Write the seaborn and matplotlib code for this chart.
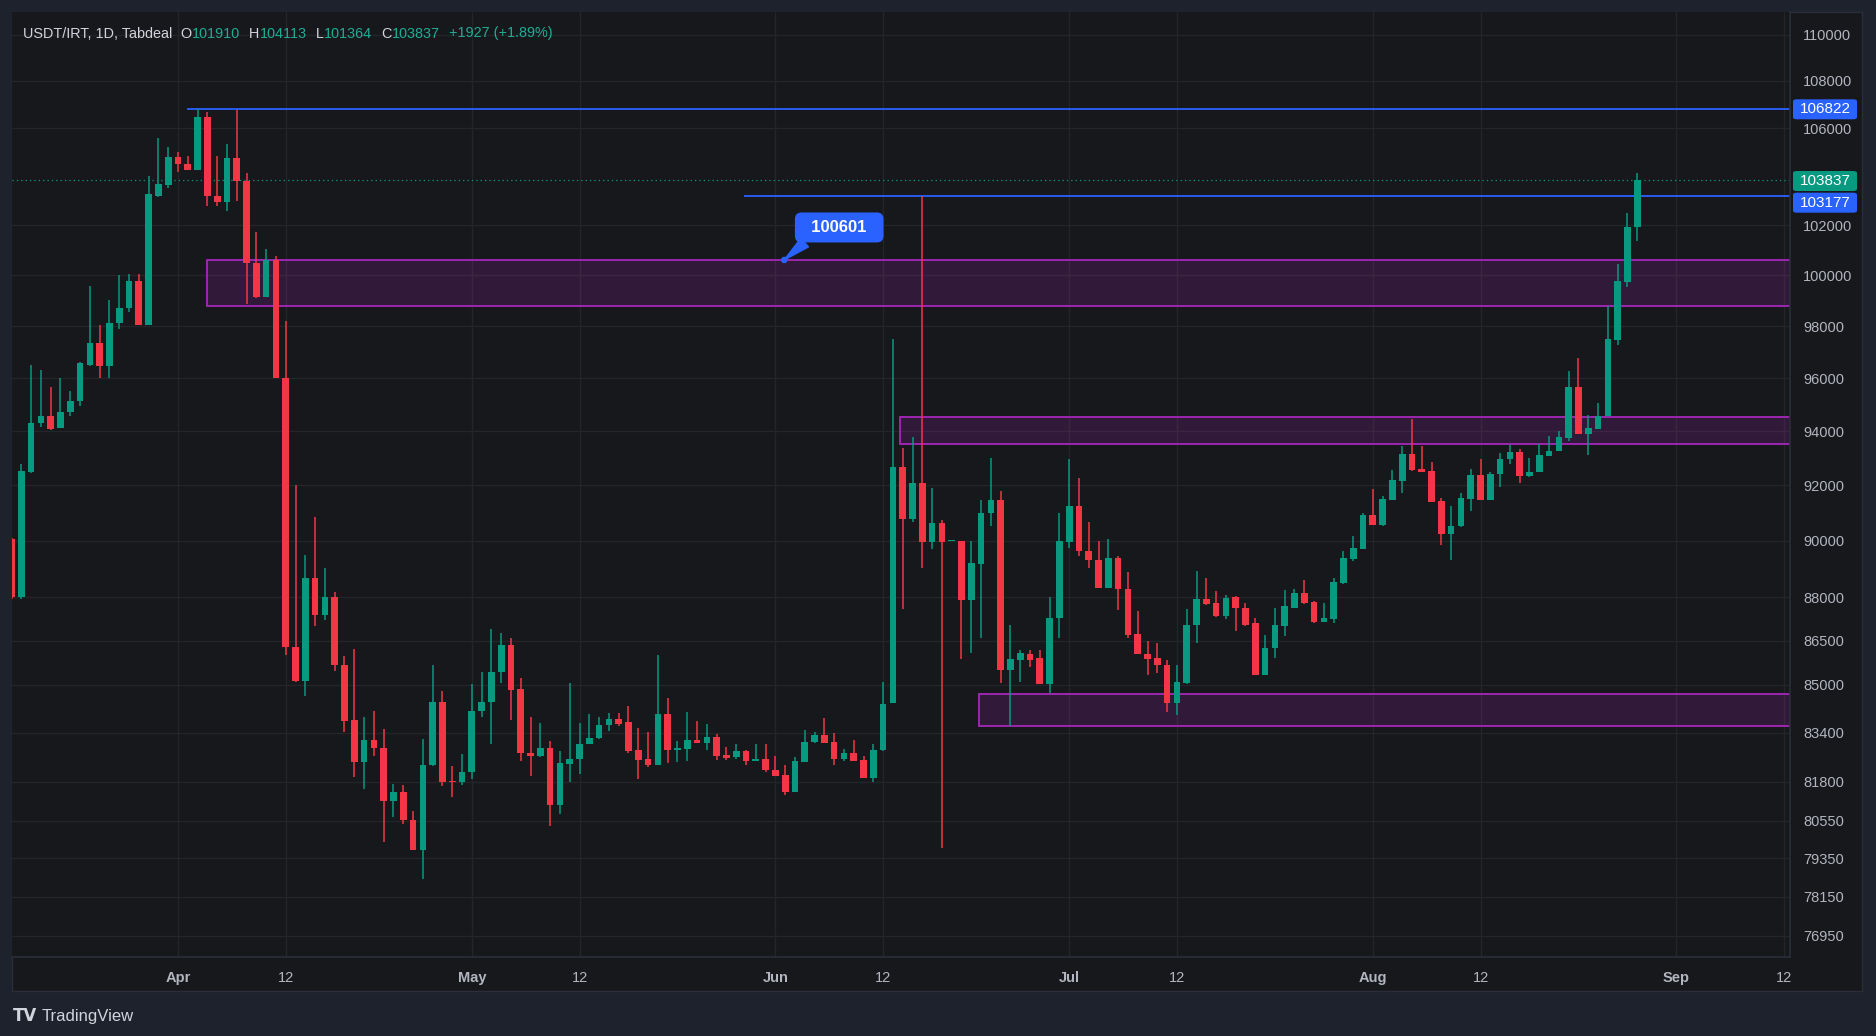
import numpy as np
import pandas as pd
import matplotlib
matplotlib.use("Agg")
import matplotlib.pyplot as plt
import seaborn as sns
from matplotlib.patches import Rectangle, FancyBboxPatch
from matplotlib.ticker import NullLocator

# ---------------- data ----------------
dates = pd.date_range("2025-03-15", "2025-08-28", freq="D")

open_ = [
    90070, 88000, 92500, 94290, 94550, 94100, 94725, 95130, 96495, 97350, 96450, 98100, 98720, 99750, 98030, 103205, 103630,
    104810, 104520, 104250, 106480, 103205, 102920, 104760, 103790, 100470, 99150, 100601, 96000, 86300, 85130, 88670, 87400, 88000, 85670, 83820, 82450, 83180, 82910, 81190, 81460, 80580, 79620, 82340, 84430, 81800, 81800,
    82100, 84120, 84430, 85420, 86350, 84850, 82750, 82640, 82910, 81050, 82380, 82540, 83040, 83240, 83650, 83850, 83760, 82830, 82550, 82350, 84020, 82820, 82880, 83150, 83050, 83270, 82670, 82600, 82790, 82460, 82550,
    82190, 82020, 81470, 82450, 83100, 83340, 83090, 82530, 82730, 82500, 81910, 82830, 84390, 92680, 90790, 92080, 89950, 90630, 90000, 90000, 87900, 89170, 91010, 91480, 85510, 85850, 86060, 85900, 85040, 87290,
    89950, 91260, 89650, 89310, 88330, 89380, 88290, 86720, 86060, 85900, 85690, 84390, 85080, 87040, 87940, 87800, 87350, 88000, 87650, 87100, 85320, 86240, 87010, 87650, 88150, 87850, 87150, 87240, 88510, 89350, 89710,
    90920, 90560, 91480, 92160, 93160, 92580, 92520, 91440, 90240, 90520, 91520, 92360, 91480, 92400, 92950, 93210, 92330, 92490, 93080, 93270, 93740, 95640, 93890, 94080, 94550, 97450, 99740, 101910,
]
high = [
    90100, 92800, 96500, 96300, 95670, 96000, 95520, 96600, 99570, 98030, 99030, 100000, 100030, 100030, 104000, 105600, 105210,
    105000, 104840, 106822, 106670, 104840, 105320, 106780, 104110, 101740, 101050, 100750, 98180, 92000, 89490, 90860, 89020, 88200, 85980, 86220, 83910, 84140, 83540, 81730, 81700, 80850, 83200, 85670, 84810, 82320, 82700,
    85020, 85440, 86900, 86770, 86580, 85230, 83910, 83740, 83130, 82800, 85060, 83740, 84030, 83940, 84050, 84050, 84300, 83550, 83420, 86000, 84570, 83130, 84100, 83780, 83680, 83350, 82940, 83020, 82850, 83020, 83020,
    82650, 82350, 82610, 83490, 83430, 83880, 83380, 82870, 83150, 82650, 83020, 85110, 97500, 93380, 93780, 103177, 91890, 90740, 90020, 90000, 90000, 91480, 92990, 91800, 87050, 86200, 86200, 86200, 88000, 91010,
    92960, 92270, 90660, 90000, 90060, 89460, 88900, 87530, 86500, 86440, 85850, 85690, 87610, 88920, 88690, 88240, 88100, 88040, 87790, 87300, 86700, 87650, 88270, 88300, 88620, 87880, 87800, 88690, 89650, 90160, 91010,
    91880, 91620, 92550, 93460, 94440, 93450, 92850, 91540, 91260, 91720, 92600, 92960, 92490, 93170, 93480, 93320, 93020, 93520, 93830, 94010, 96250, 96750, 94610, 95060, 98800, 100430, 102500, 104113,
]
low = [
    87950, 87950, 92450, 94160, 94040, 94100, 94580, 94940, 96450, 96000, 96000, 97900, 98540, 98030, 98030, 103150, 103520,
    104160, 104250, 104250, 102760, 102790, 102570, 103000, 98850, 99100, 99150, 96000, 86030, 85100, 84620, 87020, 87200, 85470, 83430, 81940, 81565, 82650, 79860, 80660, 80440, 79600, 78710, 82310, 81650, 81300, 81690,
    81890, 83910, 83020, 85060, 83840, 82480, 81980, 82620, 80360, 80760, 81800, 82050, 83020, 83200, 83460, 83620, 82750, 81900, 82270, 82350, 82400, 82450, 82460, 83050, 82850, 82520, 82520, 82540, 82330, 82460, 82130,
    82000, 81360, 81470, 82450, 83050, 83050, 82340, 82470, 82470, 81910, 81800, 82800, 84390, 87610, 90660, 89020, 89700, 79680, 89980, 85890, 86080, 86590, 90540, 85070, 83620, 85110, 85590, 85040, 84740, 86590,
    89760, 89460, 89050, 88330, 88330, 87560, 86590, 86060, 85320, 85410, 84100, 83980, 85020, 86420, 87730, 87320, 87250, 86830, 87000, 85320, 85320, 85910, 86670, 87620, 87780, 87120, 87140, 87120, 88470, 89270, 89710,
    90560, 90540, 91460, 91730, 92520, 92480, 91380, 89860, 89330, 90480, 91060, 91480, 91450, 91940, 92800, 92100, 92310, 92470, 93080, 93250, 93640, 93890, 93120, 94080, 94550, 97260, 99540, 101364,
]
close = [
    88000, 92510, 94290, 94550, 94090, 94725, 95130, 96555, 97350, 96450, 98100, 98720, 99750, 98030, 103270, 103680, 104810,
    104490, 104250, 106480, 103205, 102920, 104760, 103790, 100470, 99150, 100601, 96000, 86300, 85130, 88670, 87400, 88000, 85670, 83800, 82450, 83180, 82910, 81190, 81460, 80580, 79620, 82340, 84430, 81800, 81790, 82100,
    84120, 84430, 85420, 86350, 84830, 82750, 82640, 82910, 81050, 82400, 82540, 83040, 83240, 83650, 83850, 83700, 82790, 82520, 82340, 84020, 82830, 82910, 83150, 83050, 83270, 82650, 82570, 82790, 82460, 82550, 82170,
    82000, 81470, 82480, 83110, 83340, 83050, 82530, 82730, 82470, 81910, 82850, 84350, 92680, 90790, 92080, 89950, 90630, 89950, 90000, 87900, 89200, 91010, 91480, 85510, 85880, 86070, 85850, 85040, 87290, 90000,
    91260, 89650, 89310, 88330, 89380, 88290, 86690, 86060, 85880, 85690, 84390, 85100, 87060, 87940, 87760, 87350, 87980, 87650, 87060, 85320, 86250, 87030, 87710, 88150, 87800, 87150, 87270, 88530, 89380, 89730, 90920,
    90560, 91500, 92180, 93160, 92550, 92480, 91400, 90240, 90540, 91540, 92360, 91480, 92430, 92950, 93210, 92330, 92490, 93110, 93270, 93770, 95640, 93890, 94100, 94580, 97480, 99780, 101930, 103837,
]

price_ticks = [110000, 108000, 106000, 102000, 100000, 98000, 96000, 94000, 92000, 90000,
               88000, 86500, 85000, 83400, 81800, 80550, 79350, 78150, 76950]
time_tick_dates = ["2025-04-01", "2025-04-12", "2025-05-01", "2025-05-12", "2025-06-01", "2025-06-12",
                   "2025-07-01", "2025-07-12", "2025-08-01", "2025-08-12", "2025-09-01", "2025-09-12"]
time_tick_labels = ["Apr", "12", "May", "12", "Jun", "12", "Jul", "12", "Aug", "12", "Sep", "12"]

level_top = 106822
level_mid = 103177
last_price = 103837
zone_low = [98800, 93525, 83620]
zone_high = [100601, 94510, 84680]
callout_value = 100601

# ---------------- style ----------------
W, H = 1876, 1036
BG_OUT = "#1e222d"
PANE = "#17181c"
GRID = "#232529"
BORDER = "#2a2e39"
TXT = "#b2b5be"
TITLE = "#d1d4dc"
GREEN = "#089981"
GREEN_T = "#22ab94"
RED = "#f23645"
BLUE = "#2962ff"
PURPLE = "#9c27b0"

sns.set_theme(style="dark", rc={"axes.facecolor": PANE, "figure.facecolor": BG_OUT,
                                "axes.edgecolor": BORDER, "grid.color": GRID})
plt.rcParams["font.family"] = ["Liberation Sans", "DejaVu Sans"]

df = pd.DataFrame({"date": dates, "open": open_, "high": high, "low": low, "close": close})
base = pd.Timestamp("2025-04-01")
df["x"] = (df["date"] - base).dt.days
df["up"] = df["close"] >= df["open"]

fig = plt.figure(figsize=(W / 100, H / 100), dpi=100)
fig.patch.set_facecolor(BG_OUT)

pane = fig.add_axes([12 / W, 1 - 991 / H, 1850 / W, 979 / H])
pane.set_facecolor(PANE)
pane.set_xticks([]); pane.set_yticks([])
for s in pane.spines.values():
    s.set_color(BORDER); s.set_linewidth(1)

ax = fig.add_axes([12 / W, 1 - 957 / H, 1778 / W, 945 / H])
ax.set_facecolor(PANE)
ax.set_yscale("log")
ax.set_xlim(-16.95, 164.6)
ax.set_ylim(76307, 110995)

xt = [(pd.Timestamp(d) - base).days for d in time_tick_dates]
ax.set_xticks(xt)
ax.set_xticklabels(time_tick_labels)
for lab in ax.get_xticklabels():
    if not lab.get_text().isdigit():
        lab.set_fontweight("bold")
ax.set_yticks(price_ticks)
ax.set_yticklabels([str(v) for v in price_ticks])
ax.yaxis.set_minor_locator(NullLocator())
ax.yaxis.tick_right()
ax.grid(True, color=GRID, lw=1)
ax.tick_params(axis="y", length=0, pad=9.5, labelsize=10.5, colors=TXT)
ax.tick_params(axis="x", length=0, pad=10, labelsize=10.5, colors=TXT)
for k in ["top", "left"]:
    ax.spines[k].set_visible(False)
for k in ["right", "bottom"]:
    ax.spines[k].set_color(BORDER); ax.spines[k].set_linewidth(1.2)

# zones (rectangles)
x_starts = [2.93, 73.7, 81.8]
for lo, hi, x0 in zip(zone_low, zone_high, x_starts):
    ax.add_patch(Rectangle((x0, lo), 200, hi - lo, facecolor=(156 / 255, 39 / 255, 176 / 255, 0.2),
                           edgecolor=PURPLE, lw=1.4, zorder=1))

# horizontal lines
ax.hlines(level_top, 0.92, 200, color=BLUE, lw=1.3, zorder=2)
ax.hlines(level_mid, 57.8, 200, color=BLUE, lw=1.3, zorder=2)
ax.axhline(last_price, color=GREEN, lw=0.9, ls=(0, (1, 2.5)), zorder=2)

# candles
cols = np.where(df["up"], GREEN, RED)
ax.vlines(df["x"], df["low"], df["high"], colors=cols, lw=1.1, zorder=3)
bottoms = np.minimum(df["open"], df["close"]).astype(float)
heights = np.maximum(np.abs(df["close"] - df["open"]).astype(float), bottoms * 0.0005)
ax.bar(df["x"], heights, bottom=bottoms, width=0.68, color=cols, linewidth=0, zorder=4)

# callout
cx = 61.9
sns.scatterplot(x=[cx], y=[callout_value], ax=ax, color=BLUE, s=22, edgecolor="none", zorder=6, legend=False)
ax.annotate("  %d  " % callout_value, xy=(cx, callout_value), xytext=(55, 32.5), textcoords="offset pixels",
            ha="center", va="center", color="white", fontsize=12, fontweight="bold", zorder=7,
            bbox=dict(boxstyle="round,pad=0.45,rounding_size=0.4", fc=BLUE, ec="none"),
            arrowprops=dict(arrowstyle="wedge,tail_width=0.7,shrink_factor=0.5", fc=BLUE, ec=BLUE,
                            shrinkA=0, shrinkB=0, relpos=(0.15, 0.0)))

# right price tags (pixel positions from top)
def tag(price, color, y_top_px):
    yd = H - y_top_px
    fig.patches.append(FancyBboxPatch((1793 / W, (yd - 10) / H), 64 / W, 20 / H,
                                      boxstyle="round,pad=0,rounding_size=0.002", transform=fig.transFigure,
                                      facecolor=color, edgecolor="none", zorder=5))
    fig.text(1825 / W, yd / H, str(price), color="white", fontsize=11, ha="center", va="center", zorder=6)

tag(level_top, BLUE, 109.3)
tag(last_price, GREEN, 181)
tag(level_mid, BLUE, 202.7)

# title legend
fig.canvas.draw()
r = fig.canvas.get_renderer()
pieces = [("USDT/IRT, 1D, Tabdeal", TITLE, 8), ("O", TITLE, 0.5), ("101910", GREEN_T, 9),
          ("H", TITLE, 0.5), ("104113", GREEN_T, 9), ("L", TITLE, 0.5), ("101364", GREEN_T, 9),
          ("C", TITLE, 0.5), ("103837", GREEN_T, 9), ("+1927 (+1.89%)", GREEN_T, 0)]
xp = 23
for txt, c, gap in pieces:
    t = fig.text(xp / W, 1 - 33.5 / H, txt, color=c, fontsize=10.4, ha="left", va="center")
    bb = t.get_window_extent(renderer=r)
    xp = bb.x1 + gap

# footer logo
fig.text(13 / W, 1 - 1016 / H, "TV", color=TITLE, fontsize=12, fontweight="bold", ha="left", va="center",
         family="DejaVu Sans")
fig.text(42 / W, 1 - 1016 / H, "TradingView", color=TITLE, fontsize=12, ha="left", va="center")

fig.savefig("out.png", dpi=100, facecolor=BG_OUT)
